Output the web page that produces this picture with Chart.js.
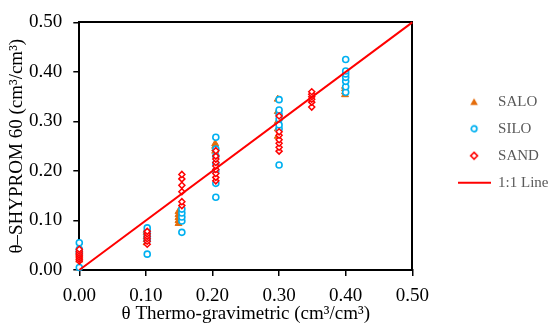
<!DOCTYPE html>
<html>
<head>
<meta charset="utf-8">
<script src="https://cdn.jsdelivr.net/npm/chart.js@4.4.0/dist/chart.umd.min.js"></script>
<style>
  html, body { margin: 0; padding: 0; background: #fff; overflow: hidden; }
  #wrap { width: 550px; height: 329px; position: relative; }
</style>
</head>
<body>
<div id="wrap"><canvas id="c"></canvas></div>
<script>
// ---- data ----
const tickLabels = ["0.00", "0.10", "0.20", "0.30", "0.40", "0.50"];
const seriesNames = ["SALO", "SILO", "SAND", "1:1 Line"];

const saloX = [0,0,0,0,0, 0.101,0.101,0.101,0.101,0.101, 0.149,0.149,0.149,0.149,0.149, 0.204,0.204,0.204,0.204, 0.298,0.298,0.298,0.298,0.298, 0.399,0.399,0.399,0.399];
const saloY = [0.020,0.025,0.030,0.035,0.040, 0.055,0.062,0.068,0.075,0.080, 0.094,0.100,0.106,0.112,0.118, 0.240,0.245,0.250,0.255, 0.345,0.320,0.300,0.285,0.270, 0.354,0.360,0.366,0.371];

const siloX = [0,0,0,0, 0.102,0.102,0.102,0.102,0.102,0.102, 0.154,0.154,0.154,0.154,0.154, 0.205,0.205,0.205,0.205,0.205,0.205,0.205, 0.300,0.300,0.300,0.300,0.300,0.300,0.300, 0.400,0.400,0.400,0.400,0.400,0.400,0.400];
const siloY = [0.005,0.035,0.042,0.055, 0.032,0.060,0.066,0.072,0.078,0.085, 0.076,0.099,0.107,0.115,0.123, 0.147,0.175,0.200,0.215,0.230,0.244,0.268, 0.212,0.285,0.293,0.305,0.314,0.323,0.344, 0.359,0.370,0.381,0.389,0.396,0.402,0.425];

const sandX = [0,0,0,0,0,0,0, 0.102,0.102,0.102,0.102,0.102,0.102, 0.154,0.154,0.154,0.154,0.154,0.154, 0.205,0.205,0.205,0.205,0.205,0.205,0.205,0.205,0.205, 0.300,0.300,0.300,0.300,0.300,0.300,0.300, 0.349,0.349,0.349,0.349,0.349,0.349];
const sandY = [0.018,0.022,0.026,0.030,0.034,0.038,0.042, 0.052,0.058,0.063,0.068,0.073,0.078, 0.130,0.138,0.158,0.171,0.184,0.193, 0.180,0.187,0.195,0.203,0.210,0.217,0.224,0.230,0.241, 0.240,0.248,0.256,0.263,0.272,0.279,0.311, 0.329,0.339,0.345,0.350,0.355,0.360];

const lineX = [0, 0.5];
const lineY = [0, 0.5];

const toPts = (xs, ys) => xs.map((x, i) => ({x: x, y: ys[i]}));

const FONT = "'Liberation Serif', 'Times New Roman', serif";
const C_SALO = '#E46C0A', C_SILO = '#00B0F0', C_SAND = '#FF0000', C_LINE = '#FF0000';

// small legend marker images (drawn at natural size, centred in the legend box)
function marker(kind) {
  const cv = document.createElement('canvas');
  const w = kind === 'line' ? 33 : 10, h = 10;
  cv.width = w; cv.height = h;
  const g = cv.getContext('2d');
  if (kind === 'tri') {
    g.fillStyle = C_SALO;
    g.beginPath(); g.moveTo(5, 1.5); g.lineTo(8.8, 8.2); g.lineTo(1.2, 8.2); g.closePath(); g.fill();
  } else if (kind === 'circ') {
    g.strokeStyle = C_SILO; g.lineWidth = 1.7; g.fillStyle = '#fff';
    g.beginPath(); g.arc(5, 5, 2.8, 0, Math.PI * 2); g.fill(); g.stroke();
  } else if (kind === 'dia') {
    g.strokeStyle = C_SAND; g.lineWidth = 1.6;
    g.beginPath(); g.moveTo(5, 1.6); g.lineTo(8.4, 5); g.lineTo(5, 8.4); g.lineTo(1.6, 5); g.closePath(); g.stroke();
  } else {
    g.strokeStyle = C_LINE; g.lineWidth = 2;
    g.beginPath(); g.moveTo(0, 5); g.lineTo(33, 5); g.stroke();
  }
  return cv;
}
const legendMarkers = [marker('tri'), marker('circ'), marker('dia'), marker('line')];

// nudge the legend block up a little to sit where the reference has it
const legendNudge = {
  id: 'legendNudge',
  afterLayout(chart) {
    if (chart.legend) { chart.legend.top -= 4; chart.legend.bottom -= 4; }
  }
};

new Chart(document.getElementById('c'), {
  type: 'scatter',
  plugins: [legendNudge],
  data: {
    datasets: [
      { label: seriesNames[0], data: toPts(saloX, saloY), pointStyle: 'triangle', pointRadius: 4, borderWidth: 1,
        borderColor: C_SALO, backgroundColor: C_SALO, clip: false, order: 3 },
      { label: seriesNames[1], data: toPts(siloX, siloY), pointStyle: 'circle', pointRadius: 3, borderWidth: 1.6,
        borderColor: C_SILO, backgroundColor: '#FFFFFF', clip: false, order: 2 },
      { label: seriesNames[2], data: toPts(sandX, sandY), pointStyle: 'rectRot', pointRadius: 3, borderWidth: 1.5,
        borderColor: C_SAND, backgroundColor: '#FFFFFF', clip: false, order: 1 },
      { type: 'line', label: seriesNames[3], data: toPts(lineX, lineY), showLine: true, pointRadius: 0,
        borderColor: C_LINE, backgroundColor: C_LINE, borderWidth: 2, clip: false, order: 0 }
    ]
  },
  options: {
    responsive: true,
    maintainAspectRatio: false,
    animation: false,
    devicePixelRatio: 1,
    layout: { padding: { left: 0, right: -8.5, top: 0, bottom: 0 } },
    plugins: {
      tooltip: { enabled: false },
      legend: {
        position: 'right',
        align: 'center',
        fullSize: false,
        maxWidth: 120,
        labels: {
          usePointStyle: true,
          pointStyleWidth: 33,
          boxHeight: 10,
          padding: 12,
          color: '#595959',
          font: { family: FONT, size: 15 },
          sort: (a, b) => a.datasetIndex - b.datasetIndex,
          generateLabels: chart => {
            const items = Chart.defaults.plugins.legend.labels.generateLabels(chart);
            items.forEach(it => { it.pointStyle = legendMarkers[it.datasetIndex]; });
            return items;
          }
        }
      }
    },
    scales: {
      x: {
        type: 'linear', position: 'bottom', min: 0, max: 0.5,
        afterFit: s => { s.height = 59; },
        ticks: { stepSize: 0.1, padding: 9, color: '#000', font: { family: FONT, size: 19 },
                 callback: (v, i) => tickLabels[i] !== undefined ? tickLabels[i] : v.toFixed(2) },
        grid: { drawOnChartArea: false, drawTicks: true, tickLength: 6, color: '#000', lineWidth: 1.5 },
        border: { display: true, color: '#000', width: 2 },
        title: { display: true, text: 'θ Thermo-gravimetric (cm³/cm³)', color: '#000',
                 font: { family: FONT, size: 19 }, padding: { top: 0, bottom: 4 } }
      },
      y: {
        type: 'linear', position: 'left', min: 0, max: 0.5,
        afterFit: s => { s.width = 79.3; },
        ticks: { stepSize: 0.1, padding: 11, color: '#000', font: { family: FONT, size: 19 },
                 callback: (v, i) => tickLabels[i] !== undefined ? tickLabels[i] : v.toFixed(2) },
        grid: { drawOnChartArea: false, drawTicks: true, tickLength: 6, color: '#000', lineWidth: 1.5 },
        border: { display: true, color: '#000', width: 2 },
        title: { display: true, text: 'θ–SHYPROM 60 (cm³/cm³)', color: '#000',
                 font: { family: FONT, size: 19 }, padding: { top: 6, bottom: 0 } }
      },
      x2: {
        type: 'linear', axis: 'x', position: 'top', min: 0, max: 0.5,
        afterFit: s => { s.height = 13.3; },
        ticks: { display: false },
        grid: { display: false, drawTicks: false },
        border: { display: true, color: '#000', width: 2 }
      },
      y2: {
        type: 'linear', axis: 'y', position: 'right', min: 0, max: 0.5,
        afterFit: s => { s.width = 33.3; },
        ticks: { display: false },
        grid: { display: false, drawTicks: false },
        border: { display: true, color: '#000', width: 2 }
      }
    }
  }
});
</script>
</body>
</html>
